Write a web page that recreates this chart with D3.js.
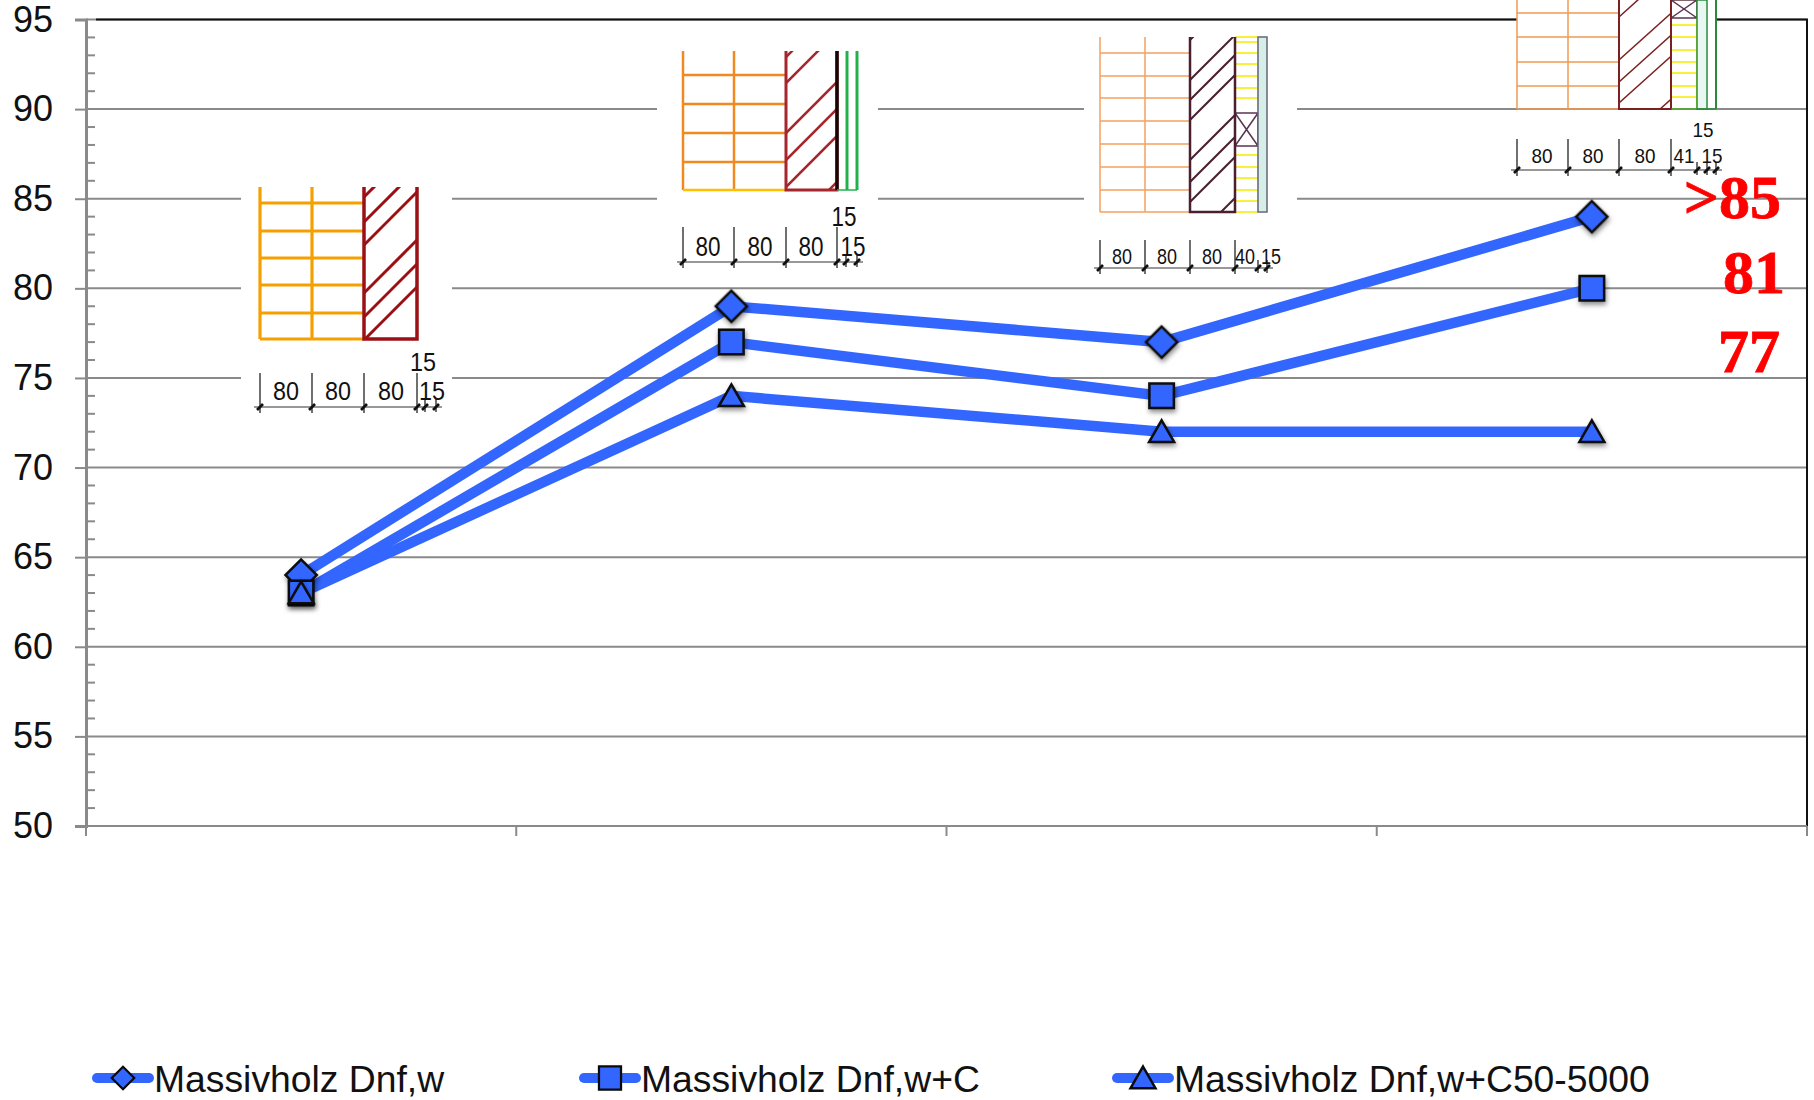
<!DOCTYPE html>
<meta charset="utf-8">
<style>
  body { margin: 0; background: #fff; }
  text { font-family: "Liberation Sans", Arial, sans-serif; }
</style>

<!-- Load d3.js -->
<script src="https://d3js.org/d3.v7.min.js"></script>

<div id="my_dataviz"></div>
<script>

// chart values
const categories = ["A", "B", "C", "D"];
const seriesNames = ["Massivholz Dnf,w", "Massivholz Dnf,w+C", "Massivholz Dnf,w+C50-5000"];
const dnfW = [64, 79, 77, 84];
const dnfWC = [63, 77, 74, 80];
const dnfWC50 = [63, 74, 72, 72];
const yTicks = [50, 55, 60, 65, 70, 75, 80, 85, 90, 95];
const redLabels = [">85", "81", "77"];
const redLabelLevels = [83.9, 79.75, 75.35];

const width = 1814, height = 1100;
const left = 86, right = 1807, top_ = 19.5, bottom = 826;
const blue = "#3366ff", gray = "#8a8a8a";

const svg = d3.select("#my_dataviz")
  .append("svg")
  .attr("width", width)
  .attr("height", height)
  .style("display", "block");

const defs = svg.append("defs");
const shadow = defs.append("filter").attr("id", "shadow")
  .attr("x", "-40%").attr("y", "-40%").attr("width", "180%").attr("height", "180%");
shadow.append("feDropShadow")
  .attr("dx", 1).attr("dy", 3).attr("stdDeviation", 2.5)
  .attr("flood-color", "#000").attr("flood-opacity", 0.45);

// scales
const x = d3.scaleBand().domain(categories).range([left, right]);
const y = d3.scaleLinear().domain([50, 95]).range([bottom, top_]);

// grid
svg.append("g").selectAll("line")
  .data(yTicks.slice(1))
  .join("line")
  .attr("x1", left).attr("x2", right)
  .attr("y1", d => y(d)).attr("y2", d => y(d))
  .attr("stroke", gray).attr("stroke-width", 2);

// frame top and right
svg.append("path")
  .attr("d", `M${left + 10},${top_}H${right}V${bottom}`)
  .attr("fill", "none").attr("stroke", "#111").attr("stroke-width", 2);

// y axis
const yAxis = svg.append("g")
  .attr("transform", `translate(${left},0)`)
  .call(d3.axisLeft(y).tickValues(yTicks).tickSize(11).tickPadding(22));
yAxis.selectAll("text").attr("font-size", 36).attr("fill", "#111")
  .style("font-family", '"Liberation Sans", Arial, sans-serif');
yAxis.selectAll("line").attr("stroke", gray).attr("stroke-width", 2);
yAxis.select(".domain").attr("stroke", gray).attr("stroke-width", 3);

// minor ticks
svg.append("g").selectAll("line")
  .data(d3.range(50, 95).filter(d => d % 5 !== 0))
  .join("line")
  .attr("x1", left).attr("x2", left + 9)
  .attr("y1", d => y(d)).attr("y2", d => y(d))
  .attr("stroke", gray).attr("stroke-width", 2);

// x axis, ticks only on the band edges
svg.append("line")
  .attr("x1", left).attr("x2", right).attr("y1", bottom).attr("y2", bottom)
  .attr("stroke", gray).attr("stroke-width", 2);
svg.append("g").selectAll("line")
  .data(categories.map(c => x(c)).concat(right))
  .join("line")
  .attr("x1", d => d).attr("x2", d => d)
  .attr("y1", bottom).attr("y2", bottom + 10)
  .attr("stroke", gray).attr("stroke-width", 2);

// wall section drawings above the points
const walls = [
  { bg: [241, 187, 452, 415], top: 187, bot: 339, xs: [260, 312, 364, 417], courses: [203, 231, 258, 285, 313],
    brick: "#f5a000", base: "#f5a000", hatch: "#9a1015", hatchYs: [197, 222, 245, 293, 317, 340], slope: 1, hatchW: 3, courseW: 3.2,
    dimY: 407, dimTop: 373, ticks: [260, 312, 364, 417, 425, 436], font: 25, textW: 26,
    labels: [["80", 286, 400], ["80", 338, 400], ["80", 391, 400], ["15", 423, 371], ["15", 432, 400]] },
  { bg: [657, 51, 878, 272], top: 51, bot: 190, xs: [683, 734, 786, 837], courses: [75, 104, 133, 162],
    brick: "#f08a20", base: "#ffc000", hatch: "#a5262c", hatchYs: [57, 83, 133, 160, 187, 233], slope: 1, hatchW: 2.5, courseW: 2.5,
    extra: [[847, "#22b24c", 3], [857, "#22b24c", 3]], heavy: "#1a0505",
    dimY: 262, dimTop: 227, ticks: [683, 734, 786, 837, 846, 857], font: 28, textW: 25,
    labels: [["80", 708, 256], ["80", 760, 256], ["80", 811, 256], ["15", 844, 226], ["15", 853, 256]] },
  { bg: [1084, 37, 1297, 276], top: 37, bot: 212, xs: [1100, 1145, 1190, 1235], courses: [53, 76, 98, 121, 144, 167, 190],
    brick: "#f5a060", base: "#f5a060", hatch: "#4a2030", hatchYs: [40, 80, 100, 120, 160, 182, 202, 243], slope: 1, hatchW: 2, courseW: 1.5,
    ins: { x1: 1235, x2: 1258, ys: [42, 53, 64, 76, 88, 98, 155, 167, 178, 190, 201], box: [113, 146] },
    film: { x1: 1258, x2: 1267, fill: "#d5efe8", stroke: "#667" },
    dimY: 268, dimTop: 240, ticks: [1100, 1145, 1190, 1235, 1258, 1267], font: 22, textW: 20,
    labels: [["80", 1122, 264], ["80", 1167, 264], ["80", 1212, 264], ["40", 1245, 264], ["15", 1271, 264]] },
  { bg: [1517, 0, 1717, 108], top: 0, bot: 109, xs: [1517, 1568, 1619, 1671], courses: [13, 37, 62, 86],
    brick: "#f09a50", base: "#f09a50", hatch: "#7a2020", hatchYs: [17, 60, 82, 103, 146], slope: 0.9, hatchW: 1.5, courseW: 1.5,
    ins: { x1: 1671, x2: 1697, ys: [25, 37, 50, 62, 73, 86, 97], box: [0, 18] },
    film: { x1: 1697, x2: 1707, fill: "#e8f7f2", stroke: "#2a8a3c" },
    extra: [[1716, "#2a8a3c", 2]],
    dimY: 170, dimTop: 139, ticks: [1517, 1568, 1619, 1671, 1697, 1707, 1716], font: 21, textW: 21,
    labels: [["80", 1542, 163], ["80", 1593, 163], ["80", 1645, 163], ["41", 1684, 163], ["15", 1703, 137], ["15", 1712, 163]] }
];

walls.forEach((w, i) => {
  const g = svg.append("g");
  g.append("rect")
    .attr("x", w.bg[0]).attr("y", w.bg[1])
    .attr("width", w.bg[2] - w.bg[0]).attr("height", w.bg[3] - w.bg[1])
    .attr("fill", "#fff");

  const [x0, x1, x2, x3] = w.xs;

  // brick courses
  g.append("g").selectAll("line").data(w.courses).join("line")
    .attr("x1", x0).attr("x2", x2).attr("y1", d => d).attr("y2", d => d)
    .attr("stroke", w.brick).attr("stroke-width", w.courseW);
  g.append("g").selectAll("line").data([x0, x1]).join("line")
    .attr("x1", d => d).attr("x2", d => d).attr("y1", w.top).attr("y2", w.bot)
    .attr("stroke", w.brick).attr("stroke-width", w.courseW);
  g.append("line").attr("x1", x0).attr("x2", x2).attr("y1", w.bot).attr("y2", w.bot)
    .attr("stroke", w.base).attr("stroke-width", w.courseW);

  // insulation layer
  if (w.ins) {
    g.append("g").selectAll("line").data(w.ins.ys.concat([w.top, w.bot])).join("line")
      .attr("x1", w.ins.x1).attr("x2", w.ins.x2).attr("y1", d => d).attr("y2", d => d)
      .attr("stroke", "#f7f03c").attr("stroke-width", 2);
    g.append("line").attr("x1", w.ins.x2).attr("x2", w.ins.x2).attr("y1", w.top).attr("y2", w.bot)
      .attr("stroke", "#f7f03c").attr("stroke-width", 2);
    const [b0, b1] = w.ins.box;
    g.append("path")
      .attr("d", `M${w.ins.x1},${b0}H${w.ins.x2}V${b1}H${w.ins.x1}ZM${w.ins.x1},${b0}L${w.ins.x2},${b1}M${w.ins.x2},${b0}L${w.ins.x1},${b1}`)
      .attr("fill", "#fff").attr("fill-opacity", 0.6).attr("stroke", "#5a3550").attr("stroke-width", 1.5);
  }
  if (w.film) {
    g.append("rect")
      .attr("x", w.film.x1).attr("y", w.top)
      .attr("width", w.film.x2 - w.film.x1).attr("height", w.bot - w.top)
      .attr("fill", w.film.fill).attr("stroke", w.film.stroke).attr("stroke-width", 1.5);
  }

  // hatched layer
  const clipId = "wall" + i;
  defs.append("clipPath").attr("id", clipId).append("rect")
    .attr("x", x2).attr("y", w.top).attr("width", x3 - x2).attr("height", w.bot - w.top);
  g.append("g").attr("clip-path", `url(#${clipId})`)
    .selectAll("line").data(w.hatchYs).join("line")
    .attr("x1", x2).attr("x2", x3)
    .attr("y1", d => d).attr("y2", d => d - (x3 - x2) * w.slope)
    .attr("stroke", w.hatch).attr("stroke-width", w.hatchW);
  g.append("path")
    .attr("d", `M${x2},${w.top}V${w.bot}H${x3}V${w.top}`)
    .attr("fill", "none").attr("stroke", w.hatch).attr("stroke-width", w.hatchW + 0.5);

  // outer skin layers
  if (w.heavy) {
    g.append("line").attr("x1", x3).attr("x2", x3).attr("y1", w.top).attr("y2", w.bot)
      .attr("stroke", w.heavy).attr("stroke-width", 3.5);
  }
  (w.extra || []).forEach(([ex, col, sw], j) => {
    g.append("line").attr("x1", ex).attr("x2", ex).attr("y1", w.top).attr("y2", w.bot)
      .attr("stroke", col).attr("stroke-width", sw);
    if (j === w.extra.length - 1) {
      g.append("line").attr("x1", x3).attr("x2", ex).attr("y1", w.bot).attr("y2", w.bot)
        .attr("stroke", col).attr("stroke-width", 1.5);
    }
  });

  // dimension line
  g.append("line")
    .attr("x1", w.ticks[0] - 6).attr("x2", w.ticks[w.ticks.length - 1] + 6)
    .attr("y1", w.dimY).attr("y2", w.dimY)
    .attr("stroke", "#333").attr("stroke-width", 1.2);
  g.append("g").selectAll("path").data(w.ticks).join("path")
    .attr("d", (d, k) => k < 4 ? `M${d},${w.dimTop}V${w.dimY + 6}` : `M${d},${w.dimY - 8}V${w.dimY + 5}`)
    .attr("fill", "none").attr("stroke", "#333").attr("stroke-width", 1.4);
  g.append("g").selectAll("path").data(w.ticks).join("path")
    .attr("d", d => `M${d - 3},${w.dimY + 3}L${d + 3},${w.dimY - 3}`)
    .attr("fill", "none").attr("stroke", "#111").attr("stroke-width", 2.6);
  g.append("g").selectAll("text").data(w.labels).join("text")
    .attr("x", d => d[1]).attr("y", d => d[2])
    .attr("text-anchor", "middle")
    .attr("font-size", w.font)
    .attr("textLength", w.textW)
    .attr("lengthAdjust", "spacingAndGlyphs")
    .attr("fill", "#111")
    .text(d => d[0]);
});

// series
const series = [dnfW, dnfWC, dnfWC50];
const cx = (d, i) => x(categories[i]) + x.bandwidth() / 2;

const line = d3.line().x(cx).y(d => y(d));

svg.append("g").selectAll("path")
  .data(series)
  .join("path")
  .attr("d", line)
  .attr("fill", "none")
  .attr("stroke", blue)
  .attr("stroke-width", 10.5);

const shapes = [
  d3.symbol().type(d3.symbolSquare).size(490),
  d3.symbol().type(d3.symbolSquare).size(600),
  d3.symbol().type(d3.symbolTriangle).size(270)
];

function marker(sel, s, px, py) {
  // diamond is the rotated square, triangle sits a little under its point
  const place = s === 0 ? `translate(${px},${py})rotate(45)`
    : s === 2 ? `translate(${px},${py + 3})`
    : `translate(${px},${py})`;
  return sel.append("path")
    .attr("d", shapes[s]())
    .attr("transform", place)
    .attr("fill", blue)
    .attr("stroke", "#0a0a0a")
    .attr("stroke-width", 2.5);
}

series.forEach((vals, s) => {
  const g = svg.append("g").attr("filter", "url(#shadow)");
  vals.forEach((d, i) => marker(g, s, cx(d, i), y(d)));
});

// red labels on the right
svg.append("g").selectAll("text")
  .data(redLabels)
  .join("text")
  .attr("x", (d, i) => [1781, 1785, 1780][i])
  .attr("y", (d, i) => y(redLabelLevels[i]))
  .attr("text-anchor", "end")
  .attr("font-size", 62)
  .attr("font-weight", "bold")
  .attr("fill", "#ff0000")
  .attr("stroke", "#ff0000")
  .attr("stroke-width", 0.8)
  .style("font-family", '"Liberation Serif", "Times New Roman", serif')
  .text(d => d);

// legend
const legendY = 1078;
const legendX = [93, 580, 1113];
seriesNames.forEach((name, s) => {
  const g = svg.append("g").attr("transform", `translate(${legendX[s]},${legendY})`);
  g.append("line")
    .attr("x1", 4).attr("x2", 56)
    .attr("stroke", blue).attr("stroke-width", 10)
    .attr("stroke-linecap", "round");
  const mk = marker(g, s, 30, 0);
  if (s === 0) mk.attr("transform", "translate(30,0)rotate(45)scale(0.72)").attr("stroke-width", 3);
  if (s === 1) mk.attr("transform", "translate(30,0)scale(0.9,0.95)");
  g.append("text")
    .attr("x", 61).attr("y", 14)
    .attr("font-size", 37.3)
    .attr("fill", "#111")
    .text(name);
});

</script>
